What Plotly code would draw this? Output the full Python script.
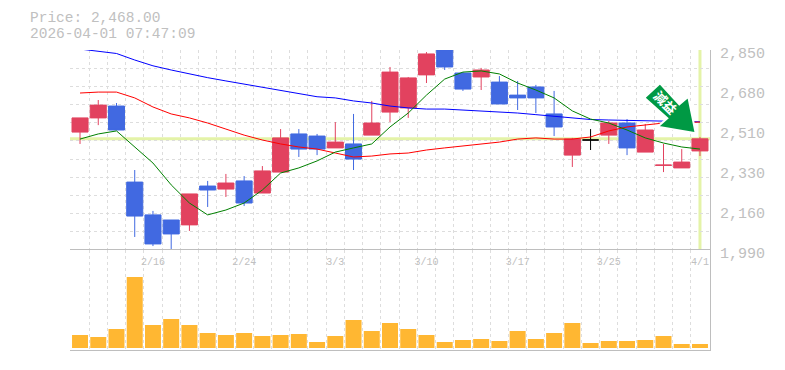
import plotly.graph_objects as go

dates = ["2/9","2/10","2/12","2/13","2/16","2/17","2/18","2/19","2/20","2/24","2/25","2/26","2/27","3/2","3/3","3/4","3/5","3/6","3/9","3/10","3/11","3/12","3/13","3/16","3/17","3/18","3/19","3/23","3/24","3/25","3/26","3/27","3/30","3/31","4/1"]
tick_dates = ["2/16","2/24","3/3","3/10","3/17","3/25","4/1"]

opens  = [2497,2558,2609,2282,2141,2119,2098,2265,2252,2287,2235,2325,2489,2480,2429,2446,2484,2583,2601,2743,2850,2751,2734,2712,2656,2691,2575,2398,2463,2484,2536,2411,2354,2343,2416]
highs  = [2558,2635,2622,2334,2158,2119,2231,2287,2317,2308,2351,2510,2510,2489,2540,2575,2631,2777,2734,2841,2850,2755,2773,2738,2717,2700,2674,2472,2510,2545,2553,2532,2446,2424,2476]
lows   = [2446,2527,2506,2046,2007,1990,2072,2175,2218,2179,2235,2325,2390,2398,2429,2334,2484,2540,2558,2708,2764,2674,2678,2618,2592,2579,2480,2347,2420,2446,2398,2411,2325,2343,2394]
closes = [2558,2613,2506,2136,2016,2059,2231,2248,2278,2192,2330,2472,2424,2424,2454,2381,2536,2755,2730,2833,2777,2682,2764,2618,2644,2644,2519,2467,2463,2536,2429,2506,2355,2368,2468]

ma_short = [2467,2489,2502,2433,2364,2270,2192,2141,2162,2192,2248,2321,2343,2373,2411,2429,2446,2519,2579,2656,2725,2755,2760,2747,2708,2678,2644,2588,2553,2536,2506,2472,2450,2433,2424]
ma_mid   = [2665,2669,2669,2644,2605,2575,2558,2536,2510,2484,2463,2446,2433,2424,2407,2390,2394,2403,2407,2420,2429,2437,2446,2454,2467,2472,2467,2467,2476,2502,2519,2527,2536,2538,2540]
ma_long  = [2854,2846,2835,2807,2782,2764,2747,2731,2717,2703,2689,2674,2661,2649,2644,2631,2622,2609,2601,2596,2596,2592,2588,2583,2579,2572,2566,2558,2551,2549,2547,2545,2545,2542,2541]

volumes = [130,110,190,710,230,290,230,150,130,150,120,130,140,60,120,280,170,250,190,130,60,80,90,70,170,90,150,250,50,70,70,80,120,40,40]

last_price = 2468
price_ticks = [2850,2678,2506,2334,2162,1990]
price_labels = ["2,850","2,680","2,510","2,330","2,160","1,990"]
price_grid = [2850,2772,2694,2615,2537,2459,2381,2303,2225,2146,2068,1990]

title_lines = ["Price: 2,468.00", "2026-04-01 07:47:09"]
badge_text = "減益"

W, H = 785, 370
def px(x): return x / W
def py(y): return 1 - y / H

RED, BLUE, BLACK = "#E2425F", "#4169E1", "#000000"
GRID, FRAME, TXT = "#DDDDDD", "#BEBEBE", "#C0C0C0"
n = len(dates)
xs = list(range(n))
x_grid = [i - 0.5 for i in range(n + 1)]

fig = go.Figure()
for name, col, y in [("MA75", "#0000FF", ma_long), ("MA25", "#FF0000", ma_mid), ("MA5", "#008000", ma_short)]:
    fig.add_trace(go.Scatter(x=xs, y=y, mode="lines", name=name, cliponaxis=False,
                             line=dict(color=col, width=1), xaxis="x", yaxis="y"))

def candles(col, test):
    idx = [i for i in xs if test(opens[i], closes[i])]
    fig.add_trace(go.Candlestick(
        x=idx, open=[opens[i] for i in idx], high=[highs[i] for i in idx],
        low=[lows[i] for i in idx], close=[closes[i] for i in idx],
        whiskerwidth=0, xaxis="x", yaxis="y",
        increasing=dict(line=dict(color=col, width=1), fillcolor=col),
        decreasing=dict(line=dict(color=col, width=1), fillcolor=col)))

candles(RED, lambda o, c: c > o)
candles(BLUE, lambda o, c: c < o)
candles(BLACK, lambda o, c: c == o)

fig.add_trace(go.Bar(x=xs, y=volumes, width=0.877, marker=dict(color="#FFB732", line=dict(width=0)),
                     xaxis="x2", yaxis="y2"))

# full-canvas helper axes, in canvas pixels, that hold the header text and the badge
fig.add_trace(go.Scatter(x=[None], y=[None], mode="lines", xaxis="x3", yaxis="y3", hoverinfo="skip"))

arrow = [(660, 83.3), (644.3, 97.7), (667.3, 118.3), (657.7, 126.7), (695.7, 133.3), (688.3, 96.7), (679.3, 104.3)]
path = "M " + " L ".join(f"{a},{b}" for a, b in arrow) + " Z"

shapes = [
    dict(type="line", xref="x", yref="y", x0=-0.55, x1=34.55, y0=last_price, y1=last_price,
         line=dict(color="#E4F3A8", width=3), layer="below"),
    dict(type="line", xref="x", yref="y", x0=n - 1, x1=n - 1, y0=1990, y1=2850,
         line=dict(color="#E4F3A8", width=3), layer="below"),
    dict(type="path", xref="x3", yref="y3", path=path, fillcolor="#009944",
         line=dict(color="#FFFFFF", width=2), layer="above"),
]

annotations = [
    dict(text=title_lines[0], x=29, y=17.5, xref="x3", yref="y3", xanchor="left", yanchor="middle",
         showarrow=False, borderpad=0, font=dict(family="Liberation Mono", size=14.5, color=TXT)),
    dict(text=title_lines[1], x=29, y=33.5, xref="x3", yref="y3", xanchor="left", yanchor="middle",
         showarrow=False, borderpad=0, font=dict(family="Liberation Mono", size=14.5, color=TXT)),
    dict(text="<b>" + badge_text + "</b>", x=666, y=102, xref="x3", yref="y3", textangle=45,
         xanchor="center", yanchor="middle", showarrow=False,
         font=dict(family="Noto Sans CJK JP", size=13, color="#FFFFFF")),
]

fig.update_layout(
    width=W, height=H, margin=dict(l=0, r=0, t=0, b=0), autosize=False,
    paper_bgcolor="#FFFFFF", plot_bgcolor="rgba(0,0,0,0)", showlegend=False, boxgap=0.12, boxgroupgap=0,
    shapes=shapes, annotations=annotations,
    xaxis=dict(domain=[px(70), px(710)], range=[-0.55, 34.55], anchor="y", showticklabels=False, ticks="", automargin=False,
               rangeslider=dict(visible=False), showgrid=True, tickvals=x_grid, zeroline=False,
               gridcolor=GRID, griddash="3px,3px", gridwidth=1, showline=False),
    yaxis=dict(domain=[py(250), py(50)], range=[1990, 2850], anchor="x", side="right", automargin=False,
               tickvals=price_ticks, ticktext=price_labels, showgrid=False, zeroline=False,
               ticks="", ticklabelstandoff=6, ticklabelshift=3,
               tickfont=dict(family="Liberation Mono", size=15, color=TXT),
               minor=dict(tickvals=price_grid, showgrid=True, gridcolor=GRID, griddash="3px,3px", gridwidth=1, ticks=""),
               showline=True, linecolor=FRAME, linewidth=1),
    xaxis2=dict(domain=[px(70), px(710)], range=[-0.55, 34.55], anchor="y2", side="top", automargin=False,
                tickvals=[dates.index(d) for d in tick_dates], ticktext=tick_dates,
                ticklabelposition="inside", ticks="", showgrid=False, zeroline=False, ticklabelstandoff=7,
                tickfont=dict(family="Liberation Mono", size=10, color=TXT),
                minor=dict(tickvals=x_grid, showgrid=True, gridcolor=GRID, griddash="3px,3px", gridwidth=1, ticks=""),
                showline=True, linecolor=FRAME, linewidth=1, mirror=True),
    yaxis2=dict(domain=[py(350), py(250)], range=[-20, 980], anchor="x2", side="right", automargin=False,
                showticklabels=False, ticks="", showgrid=False, zeroline=False,
                showline=True, linecolor=FRAME, linewidth=1),
    xaxis3=dict(domain=[0, 1], range=[0, W], anchor="y3", visible=False, fixedrange=True, automargin=False),
    yaxis3=dict(domain=[0, 1], range=[H, 0], anchor="x3", visible=False, fixedrange=True, automargin=False),
)

fig.write_html("out.html", config=dict(displayModeBar=False),
               post_script="document.body.style.margin='0';document.documentElement.style.overflow='hidden';")
